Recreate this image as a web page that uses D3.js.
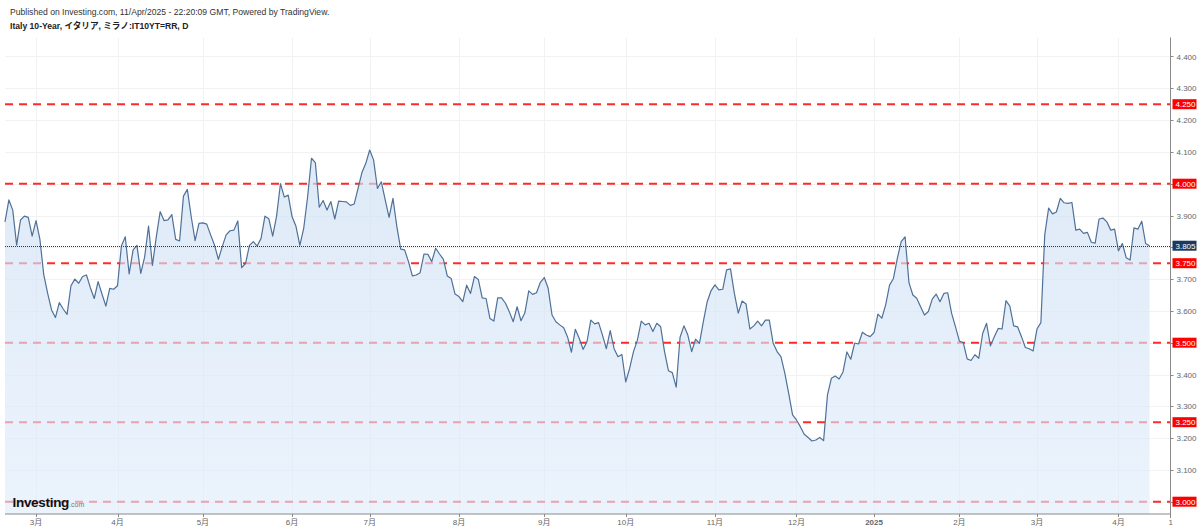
<!DOCTYPE html>
<html>
<head>
<meta charset="utf-8">
<script src="https://cdn.jsdelivr.net/npm/d3@7"></script>
<style>
  html, body { margin: 0; padding: 0; background: #fff; }
  svg { display: block; }
  text { font-family: "Liberation Sans", Arial, "Noto Sans CJK JP", sans-serif; }
</style>
</head>
<body>
<svg id="chart" width="1200" height="530"></svg>
<script>
// ---------------- DATA ----------------
const titleLine1 = "Published on Investing.com, 11/Apr/2025 - 22:20:09 GMT, Powered by TradingView.";
const titleLine2 = "Italy 10-Year, イタリア, ミラノ:IT10YT=RR, D";
const startDate = "2024-02-20";
const holidays = ["2024-12-25", "2024-12-26", "2025-01-01"];
// daily close (trading days from 2024-02-20 to 2025-04-11)
const yields = [
  3.880,3.949,3.917,3.807,3.886,3.898,3.894,3.835,3.884,3.825,
  3.713,3.655,3.603,3.579,3.626,3.606,3.589,3.679,3.700,3.687,
  3.708,3.713,3.673,3.639,3.692,3.653,3.615,3.671,3.668,3.679,
  3.804,3.833,3.716,3.791,3.806,3.718,3.770,3.867,3.743,3.833,
  3.912,3.884,3.886,3.903,3.825,3.820,3.961,3.982,3.896,3.821,
  3.875,3.877,3.873,3.839,3.807,3.762,3.802,3.839,3.852,3.854,
  3.883,3.736,3.749,3.806,3.818,3.804,3.828,3.898,3.890,3.835,
  3.898,4.000,3.958,3.964,3.896,3.866,3.806,3.860,3.959,4.080,
  4.066,3.926,3.947,3.917,3.944,3.889,3.945,3.944,3.943,3.932,
  3.936,3.985,4.035,4.064,4.106,4.075,3.985,4.006,3.949,3.894,
  3.954,3.865,3.794,3.792,3.755,3.710,3.713,3.720,3.779,3.778,
  3.755,3.797,3.779,3.762,3.710,3.702,3.653,3.645,3.629,3.681,
  3.655,3.708,3.699,3.641,3.639,3.576,3.568,3.641,3.641,3.624,
  3.597,3.566,3.613,3.569,3.594,3.663,3.652,3.657,3.690,3.705,
  3.671,3.587,3.566,3.556,3.547,3.518,3.470,3.542,3.514,3.479,
  3.503,3.571,3.559,3.563,3.524,3.481,3.538,3.481,3.456,3.463,
  3.377,3.419,3.472,3.508,3.568,3.556,3.561,3.535,3.561,3.550,
  3.472,3.412,3.406,3.360,3.517,3.553,3.524,3.472,3.511,3.498,
  3.566,3.629,3.664,3.682,3.666,3.668,3.729,3.732,3.655,3.593,
  3.631,3.622,3.543,3.553,3.568,3.553,3.571,3.571,3.498,3.472,
  3.456,3.404,3.341,3.273,3.257,3.236,3.212,3.202,3.191,3.194,
  3.202,3.192,3.336,3.388,3.395,3.386,3.408,3.471,3.448,3.499,
  3.496,3.533,3.524,3.519,3.532,3.590,3.577,3.619,3.681,3.702,
  3.765,3.818,3.833,3.689,3.650,3.640,3.613,3.587,3.598,3.637,
  3.653,3.629,3.655,3.657,3.592,3.550,3.505,3.500,3.449,3.444,
  3.462,3.451,3.529,3.561,3.490,3.519,3.545,3.543,3.632,3.615,
  3.553,3.550,3.519,3.485,3.481,3.474,3.543,3.563,3.839,3.923,
  3.905,3.911,3.954,3.940,3.938,3.941,3.854,3.857,3.844,3.847,
  3.816,3.813,3.889,3.892,3.880,3.854,3.857,3.789,3.812,3.767,
  3.760,3.861,3.857,3.882,3.812,3.805
];
const levels = [4.25, 4.0, 3.75, 3.5, 3.25, 3.0];
const lastValue = 3.805;
const yTickValues = [3.0,3.1,3.2,3.3,3.4,3.5,3.6,3.7,3.8,3.9,4.0,4.1,4.2,4.3,4.4];
const monthNames = ["2025","2月","3月","4月","5月","6月","7月","8月","9月","10月","11月","12月"];
const edgeTickLabel = "1";

// ---------------- LAYOUT ----------------
const W = 1200, H = 530;
const plotL = 5, plotR = 1170.5, plotT = 37.5, plotB = 514;
const svg = d3.select("#chart");

// trading dates
const fmt = d3.timeFormat("%Y-%m-%d");
const dates = [];
{
  let d = d3.timeParse("%Y-%m-%d")(startDate);
  while (dates.length < yields.length) {
    const wd = d.getDay();
    if (wd !== 0 && wd !== 6 && !holidays.includes(fmt(d))) dates.push(new Date(d));
    d = d3.timeDay.offset(d, 1);
  }
}
const N = yields.length;
const x = d3.scaleLinear().domain([0, N - 1]).range([5, 1149.5]);
const y = d3.scaleLinear().domain([3.0, 4.0]).range([501.7, 183.7]);

// month ticks (first trading day of each month)
const monthTicks = [];
for (let i = 1; i < N; i++) {
  if (dates[i].getMonth() !== dates[i - 1].getMonth()) {
    monthTicks.push({ i, label: monthNames[dates[i].getMonth()], year: dates[i].getMonth() === 0 });
  }
}

// clip
const defs = svg.append("defs");
defs.append("clipPath").attr("id", "plotClip").append("rect")
  .attr("x", plotL).attr("y", plotT).attr("width", plotR - plotL).attr("height", plotB - plotT);

const grad = defs.append("linearGradient").attr("id", "areaGrad")
  .attr("gradientUnits", "userSpaceOnUse")
  .attr("x1", 0).attr("x2", 0).attr("y1", y(4.1)).attr("y2", plotB);
grad.append("stop").attr("offset", "0%").attr("stop-color", "#cfe0f4").attr("stop-opacity", 0.68);
grad.append("stop").attr("offset", "100%").attr("stop-color", "#dfecfb").attr("stop-opacity", 0.62);

// grid
const grid = svg.append("g").attr("clip-path", "url(#plotClip)");
grid.selectAll("line.h").data(yTickValues).join("line")
  .attr("x1", plotL).attr("x2", plotR)
  .attr("y1", d => Math.round(y(d)) + 0.5).attr("y2", d => Math.round(y(d)) + 0.5)
  .attr("stroke", "#f2f2f2").attr("stroke-width", 1);
grid.selectAll("line.v").data(monthTicks).join("line")
  .attr("x1", d => Math.round(x(d.i)) + 0.5).attr("x2", d => Math.round(x(d.i)) + 0.5)
  .attr("y1", plotT).attr("y2", plotB)
  .attr("stroke", "#f2f2f2").attr("stroke-width", 1);

// level lines (dashed red)
const lv = svg.append("g");
lv.selectAll("line").data(levels).join("line")
  .attr("x1", plotL).attr("x2", plotR)
  .attr("y1", d => y(d)).attr("y2", d => y(d))
  .attr("stroke", "#ff2a2a").attr("stroke-width", 2)
  .attr("stroke-dasharray", "8,6");

// area + line
const area = d3.area().x((d, i) => x(i)).y0(plotB).y1(d => y(d));
svg.append("path").datum(yields).attr("d", area)
  .attr("fill", "url(#areaGrad)").attr("clip-path", "url(#plotClip)");

const line = d3.line().x((d, i) => x(i)).y(d => y(d));
svg.append("path").datum(yields).attr("d", line)
  .attr("fill", "none").attr("stroke", "#4f7197").attr("stroke-width", 1.2)
  .attr("stroke-linejoin", "round");

// last value dotted line
svg.append("line")
  .attr("x1", plotL).attr("x2", plotR)
  .attr("y1", Math.round(y(lastValue)) + 0.5).attr("y2", Math.round(y(lastValue)) + 0.5)
  .attr("stroke", "#1d3a5e").attr("stroke-width", 1).attr("stroke-dasharray", "1,1");

// axes lines
svg.append("line").attr("x1", plotR).attr("x2", plotR).attr("y1", plotT).attr("y2", plotB + 4)
  .attr("stroke", "#8a8a8a").attr("stroke-width", 1);
svg.append("line").attr("x1", plotL).attr("x2", plotR).attr("y1", plotB).attr("y2", plotB)
  .attr("stroke", "#8a8a8a").attr("stroke-width", 1);

// right axis ticks + labels
const covered = levels.concat([3.8]);
const ya = svg.append("g");
ya.selectAll("line").data(yTickValues).join("line")
  .attr("x1", plotR).attr("x2", plotR + 3)
  .attr("y1", d => Math.round(y(d)) + 0.5).attr("y2", d => Math.round(y(d)) + 0.5)
  .attr("stroke", "#8a8a8a");
ya.selectAll("text").data(yTickValues.filter(v => !covered.some(c => Math.abs(c - v) < 1e-6))).join("text")
  .attr("x", plotR + 6).attr("y", d => y(d) + 3)
  .attr("font-size", 8).attr("fill", "#666")
  .text(d => d3.format(".3f")(d));

// level label boxes
const lb = svg.append("g");
levels.forEach(v => {
  lb.append("rect").attr("x", plotR + 2).attr("y", y(v) - 5).attr("width", 24).attr("height", 10)
    .attr("fill", "#ff0000");
  lb.append("text").attr("x", plotR + 5).attr("y", y(v) + 3)
    .attr("font-size", 8).attr("fill", "#fff").text(d3.format(".3f")(v));
});
lb.append("rect").attr("x", plotR + 2).attr("y", y(lastValue) - 5).attr("width", 24).attr("height", 10)
  .attr("fill", "#1a3a5f");
lb.append("text").attr("x", plotR + 5).attr("y", y(lastValue) + 3)
  .attr("font-size", 8).attr("fill", "#fff").text(d3.format(".3f")(lastValue));

// bottom axis
const xa = svg.append("g");
xa.selectAll("line").data(monthTicks).join("line")
  .attr("x1", d => Math.round(x(d.i)) + 0.5).attr("x2", d => Math.round(x(d.i)) + 0.5)
  .attr("y1", plotB).attr("y2", plotB + 3).attr("stroke", "#8a8a8a");
xa.selectAll("text").data(monthTicks).join("text")
  .attr("x", d => x(d.i)).attr("y", 525)
  .attr("text-anchor", "middle").attr("font-size", 8)
  .attr("font-weight", d => d.year ? "bold" : "normal")
  .attr("fill", "#666")
  .text(d => d.label);
svg.append("text")
  .attr("x", x(N + 4.5)).attr("y", 525).attr("text-anchor", "middle")
  .attr("font-size", 8).attr("fill", "#666").text(edgeTickLabel);

// titles
svg.append("text").attr("x", 10).attr("y", 14.5).attr("font-size", 8.6).attr("fill", "#333")
  .text(titleLine1);
svg.append("text").attr("x", 10).attr("y", 29).attr("font-size", 8.6).attr("font-weight", "bold")
  .attr("fill", "#222").text(titleLine2);

// logo
const logo = svg.append("text").attr("x", 12.5).attr("y", 506.5);
logo.append("tspan").attr("font-size", 13.5).attr("font-weight", "bold").attr("fill", "#111")
  .attr("letter-spacing", -0.3).text("Investing");
logo.append("tspan").attr("font-size", 7).attr("fill", "#777").text(".com");
</script>
</body>
</html>
